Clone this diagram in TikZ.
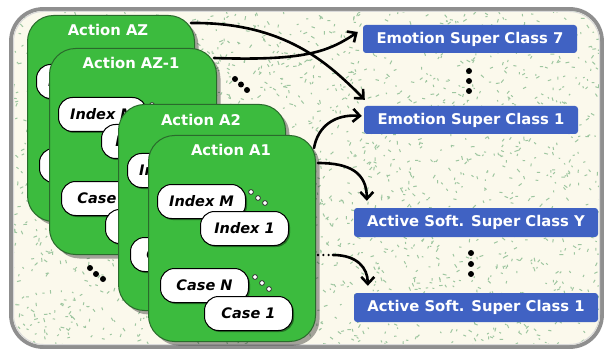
\documentclass[tikz,border=0pt]{standalone}
\usepackage{fontspec}
\setmainfont{DejaVu Sans}
\usetikzlibrary{arrows.meta,shadows,calc}
\definecolor{bgbeige}{HTML}{FBF9EC}
\definecolor{speck}{HTML}{9EC6A0}
\definecolor{cardgreen}{HTML}{3CBB3E}
\definecolor{carddark}{HTML}{2A6A2C}
\definecolor{boxblue}{HTML}{4062C3}
\definecolor{framegray}{HTML}{8F8F8F}
\tikzset{
 cardbox/.style={draw=carddark, line width=1pt, fill=cardgreen, rounded corners=26pt, minimum width=167pt, minimum height=206pt, anchor=north west, inner sep=0pt, drop shadow={shadow xshift=4pt, shadow yshift=-4pt, fill=black, opacity=0.35}},
 cardtitle/.style={text=white, font=\fontsize{14.8}{16}\selectfont\bfseries, anchor=base, inner sep=0pt},
 pill/.style={draw=black, line width=1pt, fill=white, rounded corners=14pt, minimum width=88pt, minimum height=34pt, anchor=north west, inner sep=0pt, font=\fontsize{14.5}{16}\selectfont\bfseries\itshape, drop shadow={shadow xshift=1.5pt, shadow yshift=-1.5pt, fill=black, opacity=0.4}},
 odot/.style={draw=black!80, line width=0.8pt, fill=white},
 classbox/.style={fill=boxblue, rounded corners=3pt, text=white, font=\fontsize{14.8}{16}\selectfont\bfseries, inner sep=0pt, minimum height=28pt},
 conn/.style={line width=2.6pt, line cap=round, -{Straight Barb[length=7pt,width=13pt]}},
 dotline/.style={line width=2.6pt, line cap=round, dash pattern=on 0pt off 5.3pt},
}
\newcommand\actcard[5]{%
\begin{scope}[shift={(#2,#3)}]
\node[cardbox] (#1) at (0,0) {};
\node[cardtitle] (#1-t) at (#5,21) {Action #4};
\node[pill] (#1-im) at (9,49) {Index M};
\draw[odot] (103,57) circle (2.4) (110,63) circle (2.4) (117,68) circle (2.4);
\node[pill] (#1-i1) at (52,76) {Index 1};
\node[pill] (#1-cn) at (12,133) {Case N};
\draw[odot] (107,142) circle (2.4) (114,148) circle (2.4) (121,154) circle (2.4);
\node[pill] (#1-c1) at (56,161) {Case 1};
\end{scope}}
\begin{document}
\begin{tikzpicture}[x=1pt,y=-1pt]
\useasboundingbox (0,0) rectangle (606,353);
\fill[white] (0,0) rectangle (606,353);
\path[fill=bgbeige, rounded corners=32pt] (11,9) rectangle (602,347);
\begin{scope}
\clip[rounded corners=32pt] (11,9) rectangle (602,347);
\pgfmathsetseed{1234}
\foreach \i in {1,...,2300}{
 \pgfmathsetmacro\sx{12+rnd*590}
 \pgfmathsetmacro\sy{10+rnd*337}
 \pgfmathsetmacro\sa{rnd*180}
 \pgfmathsetmacro\sl{1.5+rnd*2.5}
 \draw[speck, line width=1pt] (\sx,\sy) -- ++(\sa:\sl);
}
\end{scope}
\draw[framegray, line width=3.8pt, rounded corners=32pt] (11,9) rectangle (602,347);
\draw[black!15, line width=1pt, rounded corners=30pt] (13.5,11.5) rectangle (599.5,344.5);
% dots
\fill (235,79) circle (3) (241,84.5) circle (3) (247,90) circle (3);
\fill (90,268) circle (3) (96,274) circle (3) (103,279) circle (3);
\fill (469,71) circle (3) (469,81) circle (3) (469,91) circle (3);
\fill (471,253) circle (3) (471,264) circle (3) (471,274) circle (3);
% cards
\actcard{az}{27}{15}{AZ}{81}
\actcard{azb}{49}{48}{AZ-1}{82}
\actcard{a2}{118}{104}{A2}{83}
\actcard{a1}{148}{135}{A1}{83}
% classes
\node[classbox, minimum width=214pt] (e7) at (470,39) {Emotion Super Class 7};
\node[classbox, minimum width=214pt] (e1) at (471,120) {Emotion Super Class 1};
\node[classbox, minimum width=244pt, minimum height=29pt] (sy) at (476,222.5) {Active Soft. Super Class Y};
\node[classbox, minimum width=244pt, minimum height=29pt] (s1) at (476,307.5) {Active Soft. Super Class 1};
% connectors
\draw[conn] ([shift={(-4,8)}]az.north east) .. controls +(95,-1) and +(-35,-35) .. ([shift={(1,-6)}]e1.north west);
\draw[conn] ([shift={(-3,10)}]azb.north east) .. controls +(90,3) and +(-30,20) .. ([shift={(-5,-7)}]e7.west);
\draw[conn] ([shift={(-2,13)}]a1.north east) .. controls +(4,-22) and +(-27,-2) .. ([shift={(-2,-4)}]e1.west);
\draw[conn] ([shift={(2,28)}]a1.north east) .. controls +(32,0) and +(0,-28) .. ([shift={(13,-7)}]sy.north west);
\coordinate (dA) at ([shift={(2,120)}]a1.north east);
\coordinate (dB) at (333,255);
\draw[dotline] (dA) -- (dB);
\draw[conn] (dB) .. controls +(24,0) and +(0,-18) .. ([shift={(14,-7)}]s1.north west);
\end{tikzpicture}
\end{document}
